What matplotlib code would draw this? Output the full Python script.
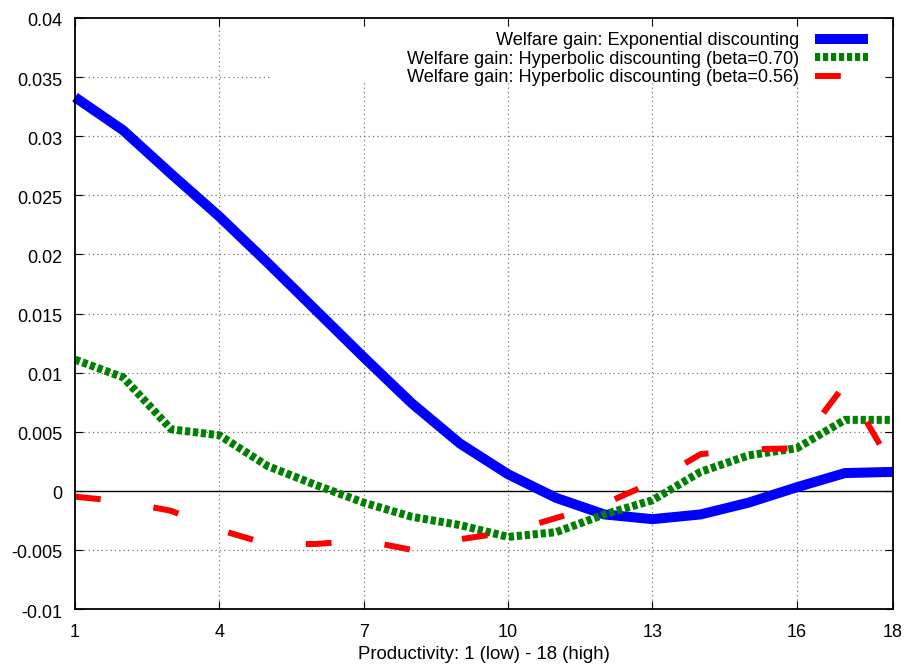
import matplotlib
matplotlib.use("Agg")
import matplotlib.pyplot as plt
import matplotlib.patches as mpatches
from matplotlib.transforms import ScaledTranslation

plt.rcParams['font.family'] = ['Liberation Sans', 'DejaVu Sans']

# productivity levels 1 (low) .. 18 (high)
productivity = list(range(1, 19))

# welfare gains
gain_exponential = [0.0333, 0.0305, 0.0268, 0.0232, 0.0193, 0.0153, 0.0113,
                    0.0074, 0.0040, 0.0014, -0.0006, -0.0020, -0.0024,
                    -0.0020, -0.0010, 0.0003, 0.0015, 0.0016]
gain_hyper_070 = [0.0111, 0.0096, 0.0052, 0.0047, 0.0021, 0.0005, -0.0010,
                  -0.0022, -0.0029, -0.0039, -0.0035, -0.0020, -0.0008,
                  0.0016, 0.0030, 0.0036, 0.0060, 0.0060]
gain_hyper_056 = [-0.0005, -0.0009, -0.0017, -0.0033, -0.0045, -0.0045,
                  -0.0042, -0.0050, -0.0041, -0.0035, -0.0023, -0.0011,
                  0.0007, 0.0031, 0.0035, 0.0036, 0.0090, 0.0020]

labels = ["Welfare gain: Exponential discounting",
          "Welfare gain: Hyperbolic discounting (beta=0.70)",
          "Welfare gain: Hyperbolic discounting (beta=0.56)"]

x_ticks = [1, 4, 7, 10, 13, 16, 18]
y_ticks = [-0.01, -0.005, 0, 0.005, 0.01, 0.015, 0.02, 0.025, 0.03, 0.035, 0.04]
y_tick_labels = ["-0.01", "-0.005", "0", "0.005", "0.01", "0.015", "0.02",
                 "0.025", "0.03", "0.035", "0.04"]

W, H = 906, 666
fig = plt.figure(figsize=(W / 100, H / 100), dpi=100)
ax = fig.add_axes([75 / W, 1 - 609 / H, (893 - 75) / W, (609 - 18) / H])
ax.set_xlim(1, 18)
ax.set_ylim(-0.01, 0.04)

# gnuplot-ish dotted grid, blanked out behind the key
grid_kw = dict(color='#777777', lw=0.9, ls=(0, (1, 2.5)), zorder=0.5)
for xv in x_ticks[1:-1]:
    ax.axvline(xv, **grid_kw)
for yv in y_ticks[1:-1]:
    if yv != 0:
        ax.axhline(yv, **grid_kw)
ax.add_patch(mpatches.Rectangle((195 / 818, 1 - 64 / 591), 1, 1,
                                transform=ax.transAxes, facecolor='white',
                                edgecolor='none', zorder=0.6))
ax.axhline(0, color='black', lw=1.0, zorder=0.7)

px = 0.72  # points per pixel at 100 dpi
ax.plot(productivity, gain_exponential, color='#0000ff', lw=10 * px,
        solid_capstyle='butt', solid_joinstyle='round', label=labels[0],
        zorder=2, clip_on=False)
ax.plot(productivity, gain_hyper_070, color='#008000', lw=8 * px,
        dashes=(0.65, 0.35), dash_capstyle='butt', label=labels[1],
        zorder=2, clip_on=False)
ax.plot(productivity, gain_hyper_056, color='#ff0000', lw=6 * px,
        dashes=(4.3, 8.9), dash_capstyle='butt', label=labels[2],
        zorder=2, clip_on=False)

ax.set_xticks(x_ticks)
ax.set_xticklabels([str(v) for v in x_ticks], fontsize=13)
ax.set_yticks(y_ticks)
ax.set_yticklabels(y_tick_labels, fontsize=13)
ax.tick_params(direction='in', length=6, width=0.8, top=True, right=True)
ax.tick_params(axis='y', pad=9)
ax.tick_params(axis='x', pad=10.5)
for sp in ax.spines.values():
    sp.set_linewidth(1.3)

# y labels sit a touch below their ticks in the original
shift = ScaledTranslation(0, -2 / 100, fig.dpi_scale_trans)
for lab in ax.get_yticklabels():
    lab.set_transform(lab.get_transform() + shift)

ax.set_xlabel("Productivity: 1 (low) - 18 (high)", fontsize=13.4, labelpad=4)

leg = ax.legend(loc='upper right', bbox_to_anchor=(868 / W, 1 - 32 / H),
                bbox_transform=fig.transFigure, frameon=False,
                markerfirst=False, fontsize=13.1, handlelength=2.9,
                handletextpad=0.9, labelspacing=0.09, borderpad=0,
                borderaxespad=0)

fig.savefig("out.png", dpi=100)
